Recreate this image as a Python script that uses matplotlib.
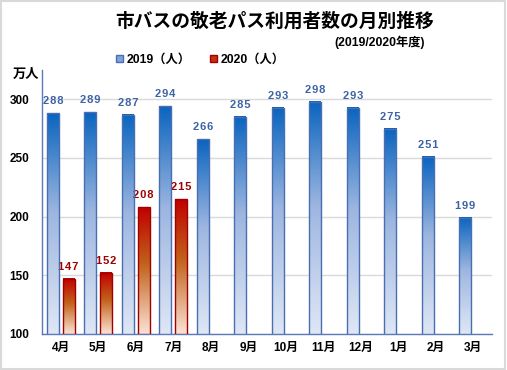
import matplotlib
matplotlib.use("Agg")
import matplotlib.pyplot as plt
import numpy as np
from matplotlib.colors import LinearSegmentedColormap
from matplotlib.patches import Patch, Rectangle

months = ["4月", "5月", "6月", "7月", "8月", "9月", "10月", "11月", "12月", "1月", "2月", "3月"]
v2019 = [288, 289, 287, 294, 266, 285, 293, 298, 293, 275, 251, 199]
v2020 = [147, 152, 208, 215]
yticks = [100, 150, 200, 250, 300]
title = "市バスの敬老パス利用者数の月別推移"
subtitle = "(2019/2020年度)"
legend_labels = ["2019（人）", "2020（人）"]
unit_label = "万人"

FAM = ["Liberation Sans", "Noto Sans CJK JP", "DejaVu Sans"]
JFAM = ["Noto Sans CJK JP", "DejaVu Sans"]
plt.rcParams["font.family"] = FAM

blue_cmap = LinearSegmentedColormap.from_list(
    "b", [(0.0, "#0a64bf"), (0.45, "#9db6e0"), (1.0, "#dfe7f5")])
red_cmap = LinearSegmentedColormap.from_list(
    "r", [(0.0, "#c00000"), (0.45, "#c2621c"), (1.0, "#fbe3d6")])
blue_edge = "#4a6fb0"
red_edge = "#a00000"

fig = plt.figure(figsize=(5.07, 3.70), dpi=100)
ax = fig.add_axes([42 / 507, 36 / 370, 450 / 507, 264 / 370])

x = np.arange(len(months))
off = 0.21
w = 0.32
b1 = ax.bar(x - off, np.array(v2019) - 100, w, bottom=100, facecolor="none",
            edgecolor=blue_edge, linewidth=1.0, zorder=4)
x2 = np.arange(len(v2020))
b2 = ax.bar(x2 + off, np.array(v2020) - 100, w, bottom=100, facecolor="none",
            edgecolor=red_edge, linewidth=1.0, zorder=4)

grad = np.linspace(0, 1, 256).reshape(-1, 1)
for bars, cmap in ((b1, blue_cmap), (b2, red_cmap)):
    for p in bars:
        x0, y0 = p.get_x(), p.get_y()
        ax.imshow(grad, cmap=cmap, extent=[x0, x0 + p.get_width(), y0, y0 + p.get_height()],
                  aspect="auto", origin="upper", zorder=3, interpolation="bilinear")


def spaced(v):
    return "\u200a".join(str(v))


for p, v in zip(b1, v2019):
    ax.annotate(spaced(v), (p.get_x() + p.get_width() / 2, p.get_y() + p.get_height()),
                xytext=(0, 5), textcoords="offset points", ha="center", va="bottom",
                fontsize=8, fontweight="bold", color="#3d62a6", family=FAM)
for p, v in zip(b2, v2020):
    ax.annotate(spaced(v), (p.get_x() + p.get_width() / 2, p.get_y() + p.get_height()),
                xytext=(0, 5), textcoords="offset points", ha="center", va="bottom",
                fontsize=8, fontweight="bold", color="#a00000", family=FAM)

ax.set_xlim(-0.5, len(months) - 0.5)
ax.set_ylim(100, 325)
ax.set_yticks(yticks)
ax.set_yticklabels([str(t) for t in yticks], fontsize=8.5, fontweight="bold")
ax.set_xticks(x)
ax.set_xticklabels(months, fontsize=8.5, fontweight="bold", family=FAM)
ax.tick_params(axis="both", length=0, pad=6)
ax.tick_params(axis="y", pad=9)
ax.grid(axis="y", color="#d9d9d9", linewidth=1.0, zorder=0)
ax.set_axisbelow(True)
for s in ("top", "right"):
    ax.spines[s].set_visible(False)
for s in ("left", "bottom"):
    ax.spines[s].set_color("#5a7ab8")
    ax.spines[s].set_linewidth(1.0)

fig.text(275 / 507, 1 - 21 / 370, title, ha="center", va="center",
         fontsize=13.5, fontweight="bold", family=JFAM)
fig.text(425 / 507, 1 - 42 / 370, subtitle, ha="right", va="center",
         fontsize=8.8, fontweight="bold", family=FAM)
fig.text(13 / 507, 1 - 74 / 370, unit_label, ha="left", va="center",
         fontsize=9.5, fontweight="bold", family=JFAM)

handles = [Patch(facecolor="#7fa3da", edgecolor=blue_edge, label=legend_labels[0]),
           Patch(facecolor="#c43010", edgecolor=red_edge, label=legend_labels[1])]
fig.legend(handles=handles, loc="center left", bbox_to_anchor=(116 / 507, 1 - 60 / 370),
           ncol=2, frameon=False, prop={"family": FAM, "weight": "bold", "size": 8.8},
           handlelength=0.55, handleheight=0.55, handletextpad=0.3, columnspacing=1.6,
           borderpad=0, borderaxespad=0)

fig.patches.append(Rectangle((0.002, 0.003), 0.995, 0.994, transform=fig.transFigure,
                             fill=False, edgecolor="#d9d9d9", linewidth=1.5))

fig.savefig("out.png", dpi=100)
